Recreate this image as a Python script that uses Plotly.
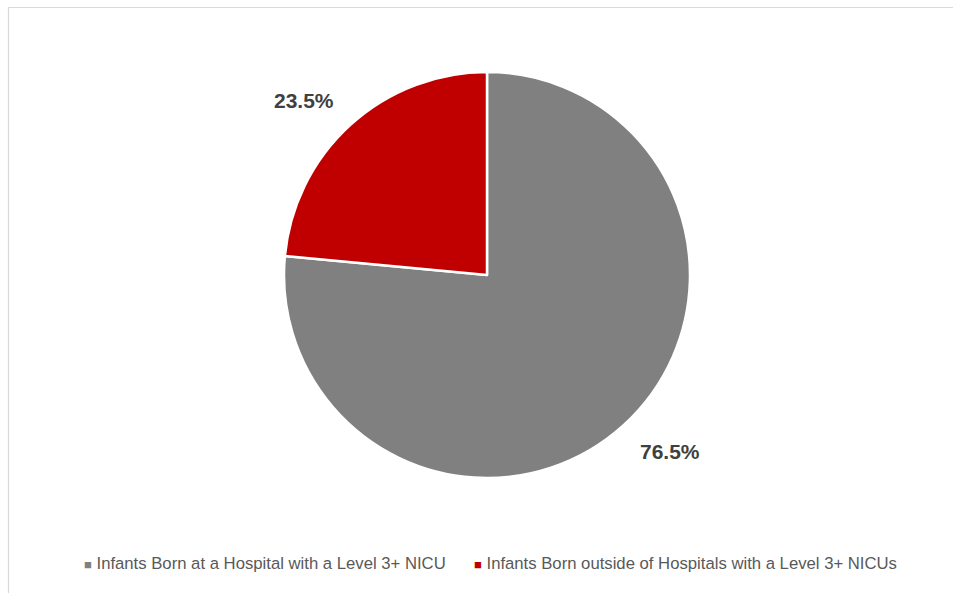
import math
import plotly.graph_objects as go

labels = ["Infants Born at a Hospital with a Level 3+ NICU",
          "Infants Born outside of Hospitals with a Level 3+ NICUs"]
values = [76.5, 23.5]
colors = ["#808080", "#C00000"]

W, H = 953, 593
cx, cy, r = 487, 275, 203

fig = go.Figure(go.Pie(
    labels=labels, values=values, sort=False, direction="clockwise", rotation=0,
    marker=dict(colors=colors, line=dict(color="white", width=2.5)),
    textinfo="none", hoverinfo="label+percent", showlegend=False,
    domain=dict(x=[(cx - r) / W, (cx + r) / W], y=[(H - cy - r) / H, (H - cy + r) / H]),
))

# data labels placed outside each slice at its mid-angle
total = sum(values)
cum = 0
annotations = []
offsets = [(12, -12), (-12, 14)]
for v, (ox, oy) in zip(values, offsets):
    mid = (cum + v / 2) / total * 2 * math.pi
    cum += v
    dist = r * 1.255
    px = cx + dist * math.sin(mid) + ox
    py = cy - dist * math.cos(mid) + oy
    annotations.append(dict(
        x=px / W, y=1 - py / H, xref="paper", yref="paper", showarrow=False,
        text=f"<b>{v:.1f}%</b>", font=dict(family="Liberation Sans", size=21, color="#404040"),
        xanchor="center", yanchor="middle"))

# legend drawn as text entries along the bottom
legend_x = [82, 472]
for lab, col, lx in zip(labels, colors, legend_x):
    annotations.append(dict(
        x=lx / W, y=1 - 563 / H, xref="paper", yref="paper", showarrow=False,
        xanchor="left", yanchor="middle",
        text=f"<span style='color:{col};font-size:13px'>■</span> {lab}",
        font=dict(family="Liberation Sans", size=16.7, color="#595959")))

fig.update_layout(
    width=W, height=H, margin=dict(l=0, r=0, t=0, b=0),
    paper_bgcolor="white", plot_bgcolor="white",
    annotations=annotations,
    showlegend=False,
    shapes=[dict(type="rect", xref="paper", yref="paper",
                 x0=8.5 / W, x1=1.05, y0=-0.05, y1=1 - 7.5 / H,
                 line=dict(color="#D9D9D9", width=1.2), fillcolor="rgba(0,0,0,0)")],
)

fig.write_html("out.html", config={"displayModeBar": False},
               post_script="document.body.style.margin='0';document.body.style.overflow='hidden';")
